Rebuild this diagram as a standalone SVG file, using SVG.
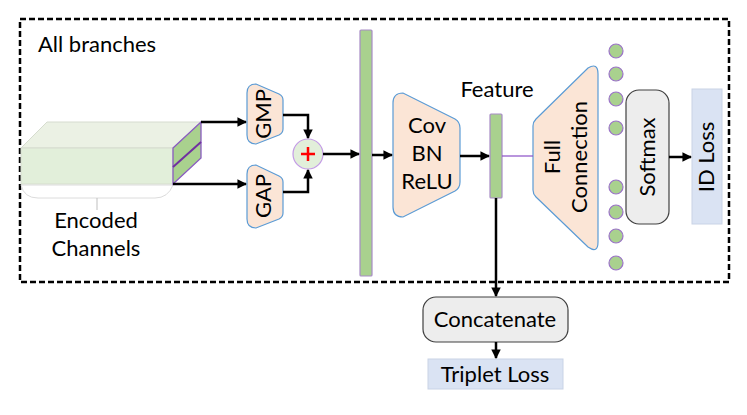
<svg xmlns="http://www.w3.org/2000/svg" width="747" height="415" viewBox="0 0 747 415">
<defs>
<style>
.t{font-family:Lato,"Liberation Sans",sans-serif;font-size:22px;fill:#000}
.tr{fill:#fbe5d6;stroke:#5b9bd5;stroke-width:1.2}
.bar{fill:#a9d18e;stroke:#a78bc6;stroke-width:1.2}
.dot{fill:#a9d18e;stroke:#9b72c9;stroke-width:1.2}
.ar{fill:none;stroke:#000;stroke-width:2.5}
.gray{fill:#ededed;stroke:#404040;stroke-width:1.2}
.loss{fill:#dae3f3;stroke:#c9d3e6;stroke-width:1}
</style>
<marker id="ah" viewBox="0 0 10 10" refX="9" refY="5" markerWidth="4.6" markerHeight="3.8" orient="auto" markerUnits="strokeWidth">
<path d="M0,0 L10,5 L0,10 z" fill="#000"/>
</marker>
</defs>
<rect width="747" height="415" fill="#fff"/>
<g id="frame">
<rect x="20" y="19" width="709" height="263" fill="none" stroke="#000" stroke-width="2.5" stroke-dasharray="6,3"/>
<text class="t" x="38" y="52">All branches</text>
</g>
<g id="encoded">
<path d="M21,185 H173 Q168,198 155,198 H38 Q24,198 21,185 z" fill="#fff" stroke="#dcdcdc" stroke-width="1"/>
<line x1="97" y1="198" x2="97" y2="210" stroke="#bfbfbf" stroke-width="1"/>
<polygon points="21,148 47,122 201,122 173,148" fill="#ebf1e4" stroke="#d6dccf" stroke-width="1"/>
<rect x="21" y="148" width="152" height="36" fill="#e2efda" stroke="#d6dccf" stroke-width="1"/>
<polygon points="173,148 201,122 201,158 173,184" fill="#a9d18e" stroke="#8a5cc0" stroke-width="1.3"/>
<line x1="173" y1="167" x2="201" y2="142" stroke="#7030a0" stroke-width="2"/>
<text class="t" x="96" y="228" text-anchor="middle">Encoded</text>
<text class="t" x="96" y="256" text-anchor="middle">Channels</text>
</g>
<g id="gmp">
<path class="tr" d="M247,93 Q247,84 256,84 L279,94 Q283,96 283,100 V129 Q283,133 279,135 L256,144 Q247,144 247,135 z"/>
<text class="t" transform="rotate(-90 264 114)" x="264" y="121" text-anchor="middle">GMP</text>
</g>
<g id="gap">
<path class="tr" d="M247,174 Q247,165 256,165 L279,176 Q283,178 283,182 V213 Q283,217 279,219 L256,228 Q247,228 247,219 z"/>
<text class="t" transform="rotate(-90 264 196)" x="264" y="203" text-anchor="middle">GAP</text>
</g>
<g id="plus">
<circle cx="308" cy="154" r="15" fill="#e2efda" stroke="#c39be6" stroke-width="1.2"/>
<path d="M301,154 H315 M308,147 V161" stroke="#ff0000" stroke-width="2.5"/>
</g>
<g id="bigbar">
<rect class="bar" x="360" y="30" width="12" height="246" rx="1"/>
</g>
<g id="cov">
<path class="tr" d="M393,103 Q393,93 403,93 L455,119 Q460,122 460,128 V182 Q460,188 455,191 L403,217 Q393,217 393,207 z"/>
<text class="t" x="427" y="133" text-anchor="middle">Cov</text>
<text class="t" x="427" y="161" text-anchor="middle">BN</text>
<text class="t" x="427" y="189" text-anchor="middle">ReLU</text>
</g>
<g id="feature">
<text class="t" x="497" y="97" text-anchor="middle">Feature</text>
<rect class="bar" x="490" y="114" width="12" height="84" rx="1"/>
</g>
<g id="fc">
<path class="tr" d="M533,126 Q533,122 536,119 L588,68 Q598,62 598,74 V242 Q598,254 588,247 L536,197 Q533,194 533,190 z"/>
<text class="t" transform="rotate(-90 553 157)" x="553" y="164" text-anchor="middle">Full</text>
<text class="t" transform="rotate(-90 580 157)" x="580" y="164" text-anchor="middle">Connection</text>
</g>
<g id="dots">
<circle class="dot" cx="616" cy="51" r="7"/>
<circle class="dot" cx="616" cy="74" r="7"/>
<circle class="dot" cx="616" cy="99" r="7"/>
<circle class="dot" cx="616" cy="128" r="7"/>
<circle class="dot" cx="616" cy="187" r="7"/>
<circle class="dot" cx="616" cy="212" r="7"/>
<circle class="dot" cx="616" cy="236" r="7"/>
<circle class="dot" cx="616" cy="263" r="7"/>
</g>
<g id="softmax">
<rect class="gray" x="626" y="90" width="43" height="134" rx="13"/>
<text class="t" transform="rotate(-90 648 157)" x="648" y="164" text-anchor="middle">Softmax</text>
</g>
<g id="idloss">
<rect class="loss" x="692" y="89" width="30" height="135"/>
<text class="t" transform="rotate(-90 707 157)" x="707" y="164" text-anchor="middle">ID Loss</text>
</g>
<g id="concat">
<rect class="gray" x="423" y="297" width="145" height="45" rx="13"/>
<text class="t" x="495" y="327" text-anchor="middle">Concatenate</text>
</g>
<g id="triplet">
<rect class="loss" x="428" y="359" width="135" height="30"/>
<text class="t" x="495" y="382" text-anchor="middle">Triplet Loss</text>
</g>
<g id="connectors">
<path class="ar" d="M201,122 H246" marker-end="url(#ah)"/>
<path class="ar" d="M173,184 H246" marker-end="url(#ah)"/>
<path class="ar" d="M283,115 H308 V138" marker-end="url(#ah)"/>
<path class="ar" d="M283,192 H308 V170" marker-end="url(#ah)"/>
<path class="ar" d="M323,154 H359" marker-end="url(#ah)"/>
<path class="ar" d="M372,155 H392" marker-end="url(#ah)"/>
<path class="ar" d="M460,156 H489" marker-end="url(#ah)"/>
<line x1="502" y1="156" x2="533" y2="156" stroke="#8a4fc7" stroke-width="1.2"/>
<path class="ar" d="M669,157 H691" marker-end="url(#ah)"/>
<path class="ar" d="M496,198 V296" marker-end="url(#ah)"/>
<path class="ar" d="M496,342 V358" marker-end="url(#ah)"/>
</g>
</svg>
